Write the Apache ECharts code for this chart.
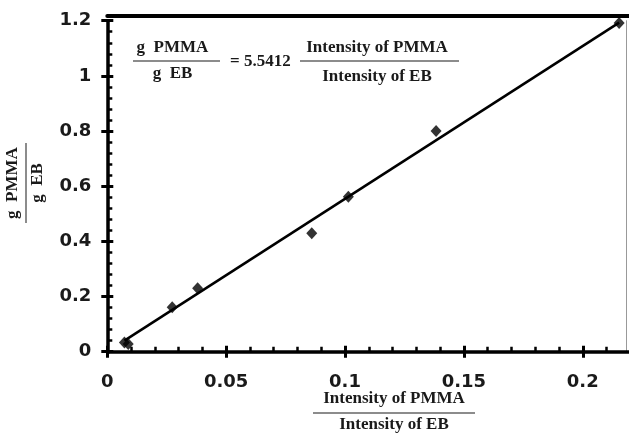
<!DOCTYPE html>
<html>
<head>
<meta charset="utf-8">
<script src="https://cdn.jsdelivr.net/npm/echarts@6/dist/echarts.min.js"></script>
<style>
  html, body { margin: 0; padding: 0; background: #fff; }
  #chart { width: 629px; height: 435px; }
</style>
</head>
<body>
<div id="chart"></div>
<script>
  // 数据点：强度比 vs 质量比（从图上读出来的）
  var intensityRatio = [0.0072, 0.0088, 0.0273, 0.038, 0.086, 0.1014, 0.1383, 0.2153];
  var massRatio = [0.033, 0.028, 0.161, 0.230, 0.429, 0.562, 0.800, 1.192];
  // 拟合直线的两个端点
  var fitX = [0.0072, 0.2153];
  var fitY = [0.040, 1.193];
  // 刻度
  var xTicks = [0, 0.05, 0.1, 0.15, 0.2];
  var xTickLabels = ['0', '0.05', '0.1', '0.15', '0.2'];
  var yTicks = [0, 0.2, 0.4, 0.6, 0.8, 1, 1.2];
  var yTickLabels = ['0', '0.2', '0.4', '0.6', '0.8', '1', '1.2'];

  var serif = '"Liberation Serif", "Times New Roman", serif';
  var sans = '"DejaVu Sans", Arial, sans-serif';

  function tickLabel(ticks, labels) {
    return function (v) {
      for (var i = 0; i < ticks.length; i++) {
        if (Math.abs(ticks[i] - v) < 1e-6) return labels[i];
      }
      return '';
    };
  }

  var gridRect = { left: 107.3, right: -1.3, top: 20.7, bottom: 83.3, outerBoundsMode: 'none' };

  // grid 0 主轴：线、向内刻度、小刻度、标签
  var xMain = {
    gridIndex: 0, type: 'value', position: 'bottom', min: 0, max: 0.22, interval: 0.05,
    axisLine: { onZero: false, lineStyle: { color: '#000', width: 3.5 } },
    axisTick: { inside: true, length: 6, lineStyle: { color: '#000', width: 3 } },
    minorTick: { show: true, splitNumber: 5, length: 5, lineStyle: { color: '#000', width: 2.5 } },
    axisLabel: {
      margin: 22, color: '#1a1a1a', fontSize: 18, fontWeight: 'bold', fontFamily: sans,
      showMaxLabel: false, formatter: tickLabel(xTicks, xTickLabels)
    },
    splitLine: { show: false }
  };
  // 顶部粗边框
  var xTop = {
    gridIndex: 0, type: 'value', position: 'top', offset: 5, min: 0, max: 0.22,
    axisLine: { onZero: false, lineStyle: { color: '#000', width: 4 } },
    axisTick: { show: false }, axisLabel: { show: false }, splitLine: { show: false }
  };
  // grid 1 只画向外的刻度，叠在一起就成了穿过轴线的刻度
  var xOut = {
    gridIndex: 1, type: 'value', position: 'bottom', min: 0, max: 0.22, interval: 0.05,
    axisLine: { show: false, onZero: false },
    axisTick: { inside: false, length: 6, lineStyle: { color: '#000', width: 3 } },
    axisLabel: { show: false }, splitLine: { show: false }
  };

  var yMain = {
    gridIndex: 0, type: 'value', position: 'left', min: 0, max: 1.2, interval: 0.2,
    axisLine: { onZero: false, lineStyle: { color: '#000', width: 3.5, cap: 'square' } },
    axisTick: { inside: true, length: 6, lineStyle: { color: '#000', width: 3 } },
    minorTick: { show: true, splitNumber: 5, length: 5, lineStyle: { color: '#000', width: 2.5 } },
    axisLabel: {
      margin: 16, color: '#1a1a1a', fontSize: 18, fontWeight: 'bold', fontFamily: sans,
      formatter: tickLabel(yTicks, yTickLabels)
    },
    splitLine: { show: false }
  };
  // 右侧细灰边框
  var yRight = {
    gridIndex: 0, type: 'value', position: 'right', offset: -4, min: 0, max: 1.2,
    axisLine: { onZero: false, lineStyle: { color: '#999', width: 1 } },
    axisTick: { show: false }, axisLabel: { show: false }, splitLine: { show: false }
  };
  var yOut = {
    gridIndex: 1, type: 'value', position: 'left', min: 0, max: 1.2, interval: 0.2,
    axisLine: { show: false, onZero: false },
    axisTick: { inside: false, length: 6, lineStyle: { color: '#000', width: 3 } },
    axisLabel: { show: false }, splitLine: { show: false }
  };

  var txt = function (x, y, s, align) {
    return {
      type: 'text', x: x, y: y,
      style: {
        text: s, fill: '#1a1a1a', font: 'bold 17px ' + serif,
        textAlign: align || 'center', textVerticalAlign: 'middle'
      }
    };
  };
  var bar = function (x1, y1, x2, y2) {
    return {
      type: 'line', shape: { x1: x1, y1: y1, x2: x2, y2: y2 },
      style: { stroke: '#666', lineWidth: 1.5 }
    };
  };

  var option = {
    animation: false,
    backgroundColor: '#fff',
    grid: [gridRect, gridRect],
    xAxis: [xMain, xTop, xOut],
    yAxis: [yMain, yRight, yOut],
    series: [
      {
        type: 'line',
        xAxisIndex: 0, yAxisIndex: 0,
        data: [[fitX[0], fitY[0]], [fitX[1], fitY[1]]],
        symbol: 'none',
        lineStyle: { color: '#000', width: 2.5 },
        z: 2
      },
      {
        type: 'scatter',
        xAxisIndex: 0, yAxisIndex: 0,
        data: intensityRatio.map(function (x, i) { return [x, massRatio[i]]; }),
        symbol: 'diamond',
        symbolSize: [11, 12],
        itemStyle: { color: '#000' },
        z: 3
      }
    ],
    graphic: [
      // 图中的公式
      txt(172.5, 48, 'g  PMMA'),
      bar(133, 61, 220, 61),
      txt(172.5, 74, 'g  EB'),
      txt(230, 62, '= 5.5412', 'left'),
      txt(377, 48, 'Intensity of PMMA'),
      bar(300, 61, 459, 61),
      txt(377, 77, 'Intensity of EB'),
      // x轴标题
      txt(394, 399, 'Intensity of PMMA'),
      bar(313, 413, 475, 413),
      txt(394, 425, 'Intensity of EB'),
      // y轴标题（旋转）
      {
        type: 'group', x: 26, y: 183, rotation: Math.PI / 2,
        children: [
          txt(0, -13, 'g  PMMA'),
          bar(-40, 0, 40, 0),
          txt(0, 12, 'g  EB')
        ]
      }
    ]
  };

  var myChart = echarts.init(document.getElementById('chart'));
  myChart.setOption(option);
</script>
</body>
</html>
